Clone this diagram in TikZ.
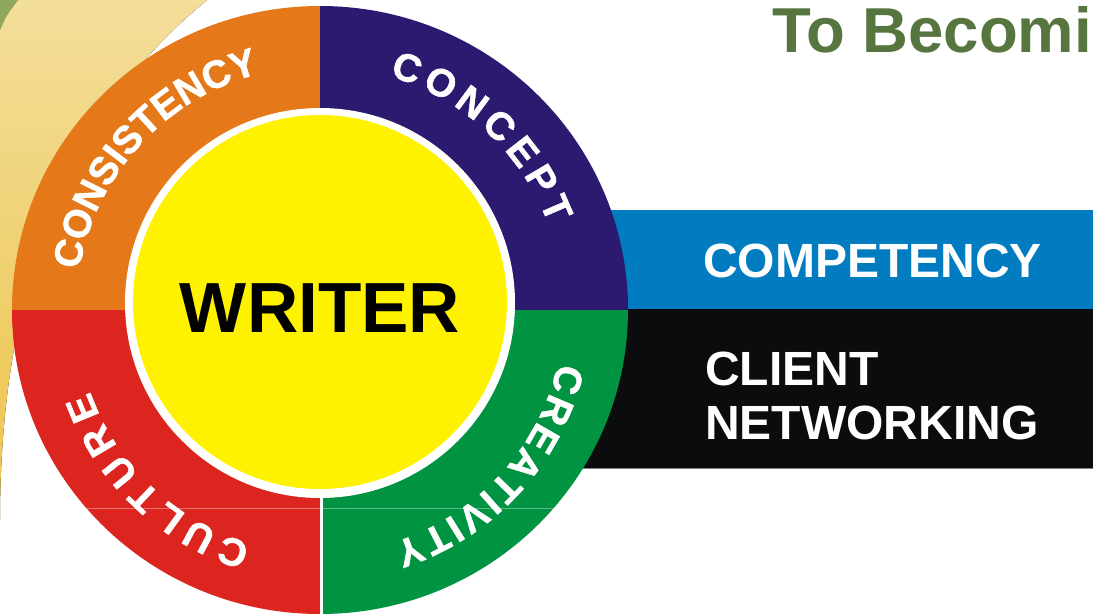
\documentclass[tikz,border=0pt]{standalone}
\usepackage{fontspec}
\setmainfont{Liberation Sans}
\newfontfamily\ringfamily[FakeBold=1.3]{Liberation Sans Bold}
\usetikzlibrary{decorations.text}
\definecolor{ringorange}{HTML}{E57818}
\definecolor{ringpurple}{HTML}{2B1A6F}
\definecolor{ringgreen}{HTML}{009342}
\definecolor{ringred}{HTML}{DB251E}
\definecolor{coreyellow}{HTML}{FFF200}
\definecolor{bandblue}{HTML}{027CC1}
\definecolor{bandblack}{HTML}{0B0C0E}
\definecolor{titlegreen}{HTML}{57763F}
\definecolor{leaftop}{HTML}{F3DE9A}
\definecolor{leafbottom}{HTML}{EDC44A}
\definecolor{leafgreen}{HTML}{8FA75A}
\newcommand\ringfont{\color{white}\ringfamily\fontsize{39}{39}\selectfont}
\tikzset{
  ringfit/.style={decorate, decoration={text along path, text align=fit to path, text={|\ringfont|#1}}},
  ringmid/.style={decorate, decoration={text along path, text align=center, text={|\ringfont|#1}}},
  bandtext/.style={text=white, font=\bfseries\fontsize{48}{54}\selectfont, inner sep=0pt, align=left},
}
\begin{document}
\begin{tikzpicture}[x=1pt,y=1pt]
\useasboundingbox (0,0) rectangle (1093,-616);
\clip (0,0) rectangle (1093,-616);
\fill[white] (0,0) rectangle (1093,-616);
% background leaf
\fill[top color=leaftop,bottom color=leafbottom] (18,0) -- (207,0) .. controls (60,-120) and (0,-300) .. (0,-520) -- (-30,-520) -- (-30,-30) -- (0,-30) .. controls (6,-16) .. (18,0) -- cycle;
\fill[leafgreen] (-30,0) -- (18,0) .. controls (6,-16) .. (0,-30) -- (-30,-30) -- cycle;
% bands
\fill[bandblue] (500,-210) rectangle (1093,-309);
\fill[bandblack] (500,-309) rectangle (1093,-468);
\draw[gray, line width=1.5] (560,-468.5) -- (1093,-468.5);
% ring
\begin{scope}[shift={(320,-310)}]
  \fill[ringorange] (0,0) -- (-308,0) arc[start angle=180, end angle=90, x radius=308, y radius=304] -- cycle;
  \fill[ringpurple] (0,0) -- (0,304) arc[start angle=90, end angle=0, x radius=308, y radius=304] -- cycle;
  \fill[ringgreen] (0,0) -- (308,0) arc[start angle=0, end angle=-90, x radius=308, y radius=304] -- cycle;
  \fill[ringred] (0,0) -- (0,-304) arc[start angle=-90, end angle=-180, x radius=308, y radius=304] -- cycle;
  \draw[white, line width=2.5] (1.5,0) -- (1.5,-306);
  \draw[white, opacity=0.35, line width=0.6] (-240,-198) -- (240,-198);
  \path[ringmid={CONSISTENCY}] (182.5:244) arc[start angle=182.5, end angle=92.5, radius=244];
  \path[ringfit={CONCEPT}] (73.5:244) arc[start angle=73.5, end angle=20.5, radius=244];
  \path[ringfit={CREATIVITY}] (-12.5:244) arc[start angle=-12.5, end angle=-72.5, radius=244];
  \path[ringfit={CULTURE}] (-106.5:244) arc[start angle=-106.5, end angle=-160.5, radius=244];
\end{scope}
% core
\fill[white] (320,-303) circle[radius=195];
\node[circle, fill=coreyellow, minimum size=374pt, inner sep=0pt] (core) at (320,-302) {};
\node[anchor=base, inner sep=0pt, font=\bfseries\fontsize{71}{71}\selectfont, text=black] (writer) at (320,-332) {WRITER};
% band texts
\node[bandtext, anchor=base west] (competency) at (703,-277) {COMPETENCY};
\node[bandtext, anchor=base west] (client) at (705,-439) {CLIENT\\NETWORKING};
% title
\node[anchor=base west, inner sep=0pt, text=titlegreen, font=\bfseries\fontsize{63.5}{63.5}\selectfont] (title) at (772,-52) {To Becomi};
\end{tikzpicture}
\end{document}
